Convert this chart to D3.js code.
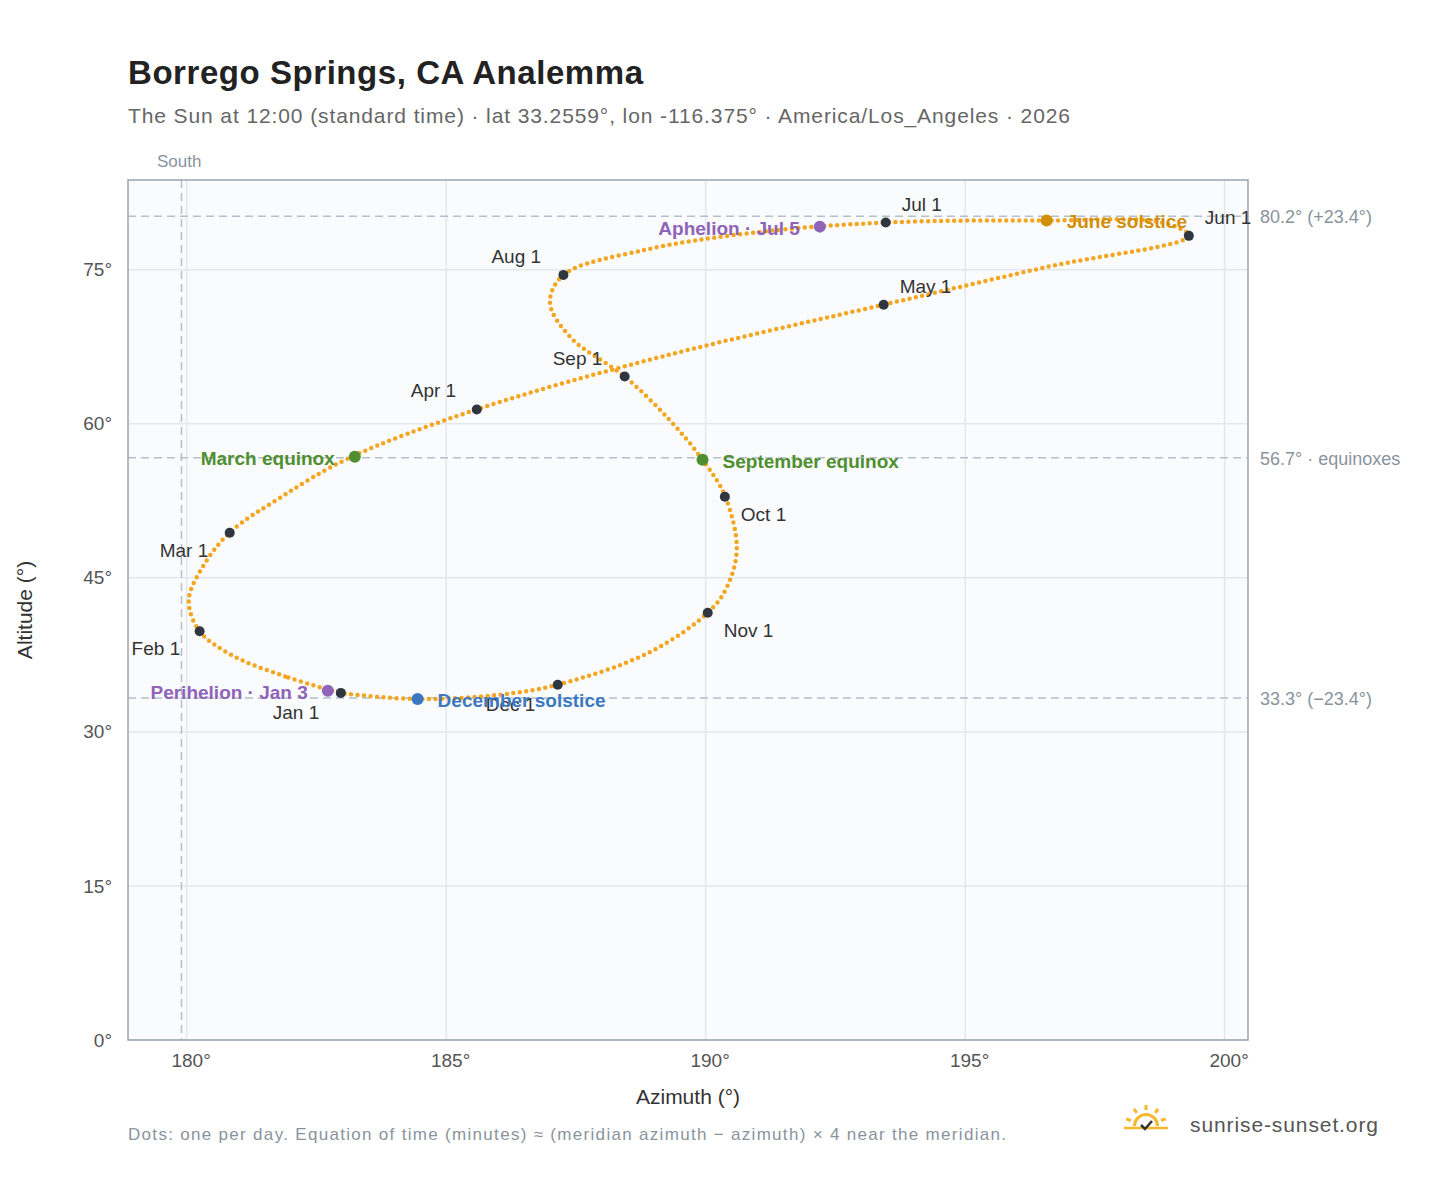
<!DOCTYPE html>
<html><head><meta charset="utf-8">
<script src="https://cdn.jsdelivr.net/npm/d3@7"></script>
<style>body{margin:0;background:#fff;font-family:"Liberation Sans",Arial,sans-serif}</style>
</head><body><svg id="chart" width="1448" height="1188"></svg>
<script>
// path samples: day label, azimuth, altitude
var pathDays = ["Jan 1","Jan 10","Jan 20","Feb 1","Feb 12","Feb 20","Mar 1","Mar 10","Mar 20","Apr 1","Apr 15","May 1","May 15","Jun 1","Jun 10","Jun 21","Jul 1","Jul 10","Jul 20","Aug 1","Aug 10","Aug 20","Sep 1","Sep 12","Sep 22","Oct 1","Oct 15","Oct 25","Nov 1","Nov 15","Dec 1","Dec 10","Dec 21","Dec 31"];
var pathAz = [182.97,181.9,180.9,180.25,180.04,180.3,180.83,181.8,183.1,185.59,189.2,193.43,196.6,199.31,198.8,196.57,193.47,190.9,188.8,187.26,187.0,187.4,188.44,189.3,189.94,190.37,190.6,190.4,190.04,188.9,187.15,186.0,184.45,183.1];
var pathAlt = [33.8,35.4,37.4,39.8,42.8,46.0,49.4,52.8,56.6,61.4,66.6,71.6,75.3,78.3,79.6,79.8,79.6,78.6,76.9,74.5,71.8,68.4,64.6,60.4,56.5,53.0,47.8,44.0,41.6,37.7,34.6,33.6,33.2,33.7];

var monthNames = ["Jan 1","Feb 1","Mar 1","Apr 1","May 1","Jun 1","Jul 1","Aug 1","Sep 1","Oct 1","Nov 1","Dec 1"];
var monthAz = [182.97,180.25,180.83,185.59,193.43,199.31,193.47,187.26,188.44,190.37,190.04,187.15];
var monthAlt = [33.8,39.8,49.4,61.4,71.6,78.3,79.6,74.5,64.6,52.9,41.6,34.6];
var monthDx = [-68,-68,-70,-66,16,16,16,-72,-72,16,16,-72];
var monthDy = [26,24,24,-12,-12,-12,-12,-12,-12,24,24,26];

var eventNames = ["March equinox","June solstice","September equinox","December solstice","Perihelion · Jan 3","Aphelion · Jul 5"];
var eventAz = [183.24,196.57,189.94,184.45,182.72,192.2];
var eventAlt = [56.8,79.8,56.5,33.2,34.0,79.2];
var eventColors = ["#4f8f2f","#d18f0a","#4f8f2f","#3b78c0","#8e63b8","#8e63b8"];
var eventAnchor = ["end","start","start","start","end","end"];

var xTicks = [180,185,190,195,200];
var yTicks = [0,15,30,45,60,75];
var refAlt = [80.2,56.7,33.3];
var refLabels = ["80.2° (+23.4°)","56.7° · equinoxes","33.3° (−23.4°)"];

var svg = d3.select("#chart");
var L = 128, R = 1248, T = 180, B = 1040;
var x = d3.scaleLinear().domain([178.87,200.45]).range([L,R]);
var y = d3.scaleLinear().domain([0,83.74]).range([B,T]);

svg.append("rect").attr("x",L).attr("y",T).attr("width",R-L).attr("height",B-T).attr("fill","#f9fbfd");
svg.append("g").selectAll("line").data(xTicks).join("line")
  .attr("x1",d=>x(d)).attr("x2",d=>x(d)).attr("y1",T).attr("y2",B).attr("stroke","#e3e8ee").attr("stroke-width",1.5);
svg.append("g").selectAll("line").data(yTicks).join("line")
  .attr("x1",L).attr("x2",R).attr("y1",d=>y(d)).attr("y2",d=>y(d)).attr("stroke","#e3e8ee").attr("stroke-width",1.5);

// reference lines
svg.append("line").attr("x1",x(179.9)).attr("x2",x(179.9)).attr("y1",T).attr("y2",B)
  .attr("stroke","#b4bfcb").attr("stroke-width",1.5).attr("stroke-dasharray","8,5");
svg.append("text").attr("x",157).attr("y",167).attr("fill","#8a939d").attr("font-size",17).text("South");
svg.append("g").selectAll("line").data(refAlt).join("line")
  .attr("x1",L).attr("x2",R).attr("y1",d=>y(d)).attr("y2",d=>y(d))
  .attr("stroke","#b4bfcb").attr("stroke-width",1.5).attr("stroke-dasharray","8,5");
svg.append("g").selectAll("text").data(refAlt).join("text")
  .attr("x",1260).attr("y",d=>y(d)+7).attr("fill","#8a939d").attr("font-size",18)
  .text((d,i)=>refLabels[i]);

svg.append("rect").attr("x",L).attr("y",T).attr("width",R-L).attr("height",B-T).attr("fill","none").attr("stroke","#98a4b2").attr("stroke-width",1.5);

// axes
var xAxis = svg.append("g").attr("transform","translate(0,"+B+")")
  .call(d3.axisBottom(x).tickValues(xTicks).tickFormat(d=>d+"°").tickSize(0).tickPadding(14));
var yAxis = svg.append("g").attr("transform","translate("+L+",0)")
  .call(d3.axisLeft(y).tickValues(yTicks).tickFormat(d=>d+"°").tickSize(0).tickPadding(16));
[xAxis,yAxis].forEach(function(a){
  a.select(".domain").remove();
  a.selectAll("text").attr("font-size",19).attr("fill","#555").attr("font-family","Liberation Sans,Arial,sans-serif");
});
xAxis.selectAll("text").attr("dx",4);
svg.append("text").attr("x",688).attr("y",1104).attr("text-anchor","middle").attr("font-size",21).attr("fill","#333").text("Azimuth (°)");
svg.append("text").attr("transform","translate(32,610) rotate(-90)").attr("text-anchor","middle").attr("font-size",21).attr("fill","#333").text("Altitude (°)");

// analemma path
var pts = pathAz.map((a,i)=>[x(a),y(pathAlt[i])]);
svg.append("path").attr("d",d3.line().curve(d3.curveCatmullRomClosed)(pts))
  .attr("fill","none").attr("stroke","#f4a623").attr("stroke-width",4.5)
  .attr("stroke-linecap","round").attr("stroke-dasharray","0 6.5");

// month markers
svg.append("g").selectAll("circle").data(monthAz).join("circle")
  .attr("cx",d=>x(d)).attr("cy",(d,i)=>y(monthAlt[i])).attr("r",5).attr("fill","#2f3640");
svg.append("g").selectAll("text").data(monthNames).join("text")
  .attr("x",(d,i)=>x(monthAz[i])+monthDx[i]).attr("y",(d,i)=>y(monthAlt[i])+monthDy[i])
  .attr("font-size",19).attr("fill","#333").text(d=>d);

// events
svg.append("g").selectAll("circle").data(eventAz).join("circle")
  .attr("cx",d=>x(d)).attr("cy",(d,i)=>y(eventAlt[i])).attr("r",6).attr("fill",(d,i)=>eventColors[i]);
svg.append("g").selectAll("text").data(eventNames).join("text")
  .attr("x",(d,i)=>x(eventAz[i])+(eventAnchor[i]=="end"?-20:20)).attr("y",(d,i)=>y(eventAlt[i])+8)
  .attr("text-anchor",(d,i)=>eventAnchor[i]).attr("font-size",19).attr("font-weight","bold")
  .attr("fill",(d,i)=>eventColors[i]).text(d=>d);

// titles
svg.append("text").attr("x",128).attr("y",84).attr("font-size",33).attr("font-weight","bold").attr("fill","#222")
  .attr("textLength",515).text("Borrego Springs, CA Analemma");
svg.append("text").attr("x",128).attr("y",123).attr("font-size",21).attr("fill","#666").attr("textLength",942)
  .text("The Sun at 12:00 (standard time) · lat 33.2559°, lon -116.375° · America/Los_Angeles · 2026");
svg.append("text").attr("x",128).attr("y",1140).attr("font-size",17).attr("fill","#8a939d").attr("textLength",878)
  .text("Dots: one per day. Equation of time (minutes) ≈ (meridian azimuth − azimuth) × 4 near the meridian.");

// logo
var lg = svg.append("g").attr("transform","translate(1146,1126)");
lg.append("path").attr("d",d3.arc()({innerRadius:10,outerRadius:13,startAngle:-Math.PI/2,endAngle:Math.PI/2})).attr("fill","#f5b82e");
[-70,-35,0,35,70].forEach(function(a){
  var r = a*Math.PI/180;
  lg.append("line").attr("x1",Math.sin(r)*16).attr("y1",-Math.cos(r)*16).attr("x2",Math.sin(r)*21).attr("y2",-Math.cos(r)*21)
    .attr("stroke","#f5b82e").attr("stroke-width",3);
});
lg.append("line").attr("x1",-22).attr("x2",22).attr("y1",2).attr("y2",2).attr("stroke","#f5b82e").attr("stroke-width",2.5);
lg.append("path").attr("d","M-5,-1 L-1,3 L6,-5").attr("fill","none").attr("stroke","#333").attr("stroke-width",2.5);
svg.append("text").attr("x",1190).attr("y",1132).attr("font-size",21).attr("fill","#555").attr("textLength",188).text("sunrise-sunset.org");
</script></body></html>
